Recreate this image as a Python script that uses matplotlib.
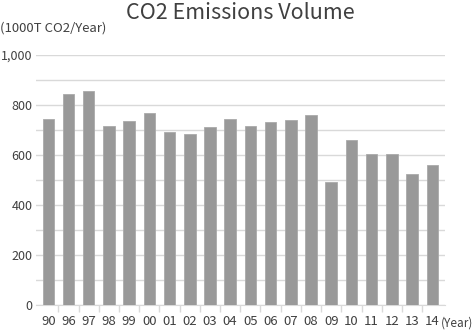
import numpy as np
import matplotlib.pyplot as plt

years = ['90', '96', '97', '98', '99', '00', '01', '02', '03', '04',
         '05', '06', '07', '08', '09', '10', '11', '12', '13', '14']
emissions = [744, 844, 856, 717, 736, 768, 692, 684, 712, 744,
             715, 731, 739, 759, 491, 660, 603, 603, 523, 559]

plt.rcParams['font.family'] = ['Noto Sans CJK JP', 'DejaVu Sans']
txt = '#404040'

fig = plt.figure(figsize=(4.76, 3.31), dpi=100)
ax = fig.add_axes([36/476, 1-305/331, 409/476, 250/331])

x = np.arange(len(years))
ax.bar(x, emissions, width=0.57, color='#999999', edgecolor='#aaaaaa', linewidth=0.6, zorder=3)

ax.set_ylim(0, 1000)
ax.set_xlim(-0.609, 19.63)
ax.set_yticks(range(0, 1001, 200))
ax.set_yticklabels(['0', '200', '400', '600', '800', '1,000'])
ax.set_yticks(range(0, 1001, 100), minor=True)
ax.grid(axis='y', which='both', color='#d9d9d9', linewidth=1, zorder=0)
ax.tick_params(axis='y', which='both', length=0, pad=2.5, labelsize=9, labelcolor=txt)

ax.set_xticks(x)
ax.set_xticklabels(years)
ax.set_xticks(np.arange(0.5, 19, 1), minor=True)
ax.tick_params(axis='x', which='major', length=0, pad=7, labelsize=9.5, labelcolor=txt)
ax.tick_params(axis='x', which='minor', length=5, width=1, color='#d9d9d9')

for s in ['left', 'right', 'top']:
    ax.spines[s].set_visible(False)
ax.spines['bottom'].set_color('#d9d9d9')

fig.text(0.504, 1-13/331, 'CO2 Emissions Volume', ha='center', va='center',
         fontsize=15.5, color=txt)
fig.text(0.0, 1-28/331, '(1000T CO2/Year)', ha='left', va='center',
         fontsize=9.5, color=txt)
fig.text(441/476, 1-323/331, '(Year)', ha='left', va='center',
         fontsize=8.5, color=txt)

fig.savefig('out.png', dpi=100)
